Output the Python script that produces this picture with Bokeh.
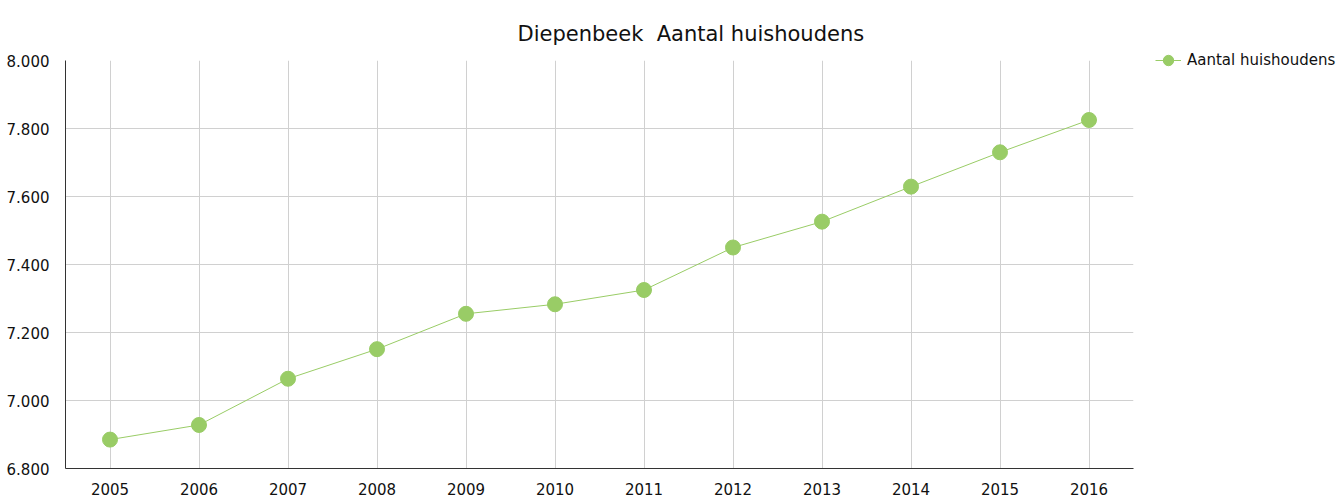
from bokeh.plotting import figure
from bokeh.models import (FactorRange, Range1d, ColumnDataSource, Legend, LegendItem,
                          FixedTicker, CustomJSTickFormatter)
from bokeh.embed import file_html
from bokeh.resources import INLINE

years = ["2005", "2006", "2007", "2008", "2009", "2010",
         "2011", "2012", "2013", "2014", "2015", "2016"]
huishoudens = [6885, 6928, 7064, 7151, 7255, 7283, 7325, 7450, 7526, 7629, 7730, 7825]
y_ticks = [6800, 7000, 7200, 7400, 7600, 7800, 8000]
series_name = "Aantal huishoudens"
title_text = "Diepenbeek\u00a0 Aantal huishoudens"

FONT = "DejaVu Sans"
GREEN = "#99cc66"

src = ColumnDataSource(dict(x=years, y=huishoudens))

p = figure(x_range=FactorRange(*years, range_padding=0),
           y_range=Range1d(6800, 8000),
           frame_width=1068, frame_height=408,
           min_border_left=65, min_border_right=0, min_border_bottom=0, min_border_top=60,
           output_backend="svg", toolbar_location=None,
           title=title_text)

p.title.text_font = FONT
p.title.text_font_size = "21px"
p.title.text_font_style = "normal"
p.title.align = "left"
p.title.offset = 452
p.title.standoff = 25
p.title.vertical_align = "top"
p.title.text_color = "#111111"

p.outline_line_color = None
p.background_fill_color = "white"
p.border_fill_color = "white"

for ax in (p.xaxis[0], p.yaxis[0]):
    ax.axis_line_color = "#333333"
    ax.axis_line_width = 1
    ax.major_tick_line_color = None
    ax.minor_tick_line_color = None
    ax.major_label_text_font = FONT
    ax.major_label_text_font_size = "15px"
    ax.major_label_text_color = "#111111"

p.xaxis.major_label_standoff = 8
p.yaxis.major_label_standoff = 10
p.yaxis.ticker = FixedTicker(ticks=y_ticks)
p.yaxis.formatter = CustomJSTickFormatter(
    code="return tick.toFixed(0).replace(/\\B(?=(\\d{3})+(?!\\d))/g, '.');")

p.xgrid.grid_line_color = "#d0d0d0"
p.ygrid.grid_line_color = "#d0d0d0"

ln = p.line("x", "y", source=src, line_color=GREEN, line_width=1)
sc = p.scatter("x", "y", source=src, size=15, fill_color=GREEN, line_color=GREEN)

legend = Legend(items=[LegendItem(label=series_name, renderers=[ln, sc])],
                location=(22, 408 - 13),
                border_line_color=None, background_fill_alpha=0,
                label_text_font=FONT, label_text_font_size="15px",
                label_text_color="#111111",
                glyph_width=26, glyph_height=26, label_standoff=6,
                padding=0, margin=0, spacing=0)
p.add_layout(legend, "right")
p.min_border_right = 0

open("out.html", "w").write(file_html(p, INLINE))
